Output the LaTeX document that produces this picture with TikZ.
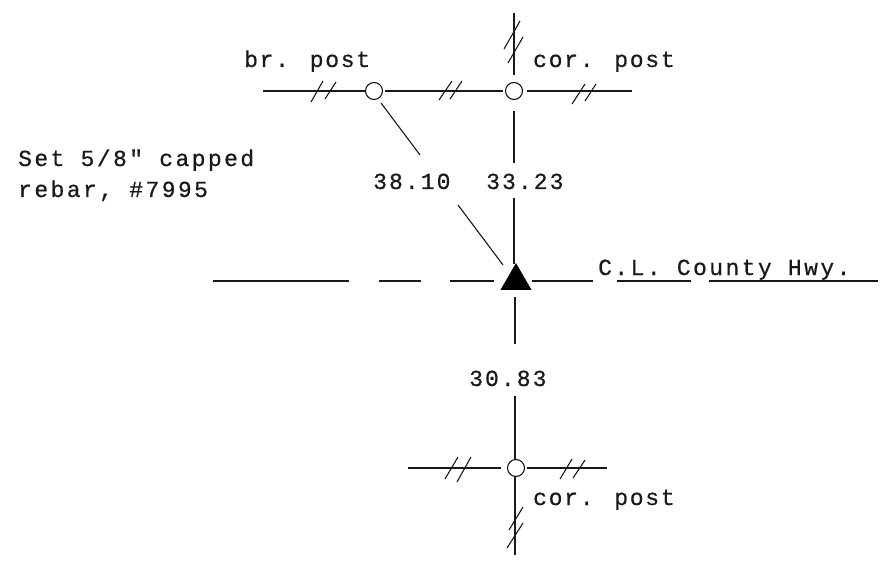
\documentclass[tikz,border=0pt]{standalone}
\usepackage{fontspec}
\newfontfamily\typew[LetterSpace=9,FakeBold=0.6]{Liberation Mono}
\newfontfamily\typen[LetterSpace=7.5,FakeBold=0.6]{Liberation Mono}
\newfontfamily\typem[LetterSpace=10.5,FakeBold=0.6]{Liberation Mono}
\usetikzlibrary{shapes.geometric}
\tikzset{
 lab/.style={anchor=base west,inner sep=0pt,font=\typew\fontsize{23}{26}\selectfont,text=black!90},
 labn/.style={lab,font=\typen\fontsize{23}{26}\selectfont},
 labm/.style={lab,font=\typem\fontsize{23}{26}\selectfont},
 post/.style={circle,draw,fill=white,line width=1pt,minimum size=17pt,inner sep=0pt},
 ln/.style={line width=1.1pt,black!90},
 tick/.style={line width=1.1pt,black!90},
 mon/.style={regular polygon,regular polygon sides=3,fill=black,draw=black,line join=round,inner sep=0pt,minimum size=35pt}
}
\begin{document}
\begin{tikzpicture}[x=1pt,y=-1pt]
\useasboundingbox (0,0) rectangle (885,561);
% posts
\node[post] (br) at (374,91) {};
\node[post] (ct) at (514,91) {};
\node[post] (cb) at (516,468) {};
\node[mon] (tri) at (516,281) {};
% free ends
\coordinate (tl) at (263,91); \coordinate (tr) at (632,91);
\coordinate (tt) at (514,13); \coordinate (ta) at (514,75);
\coordinate (tb) at (514,111); \coordinate (tc) at (514,163);
\coordinate (td) at (514,198); \coordinate (te) at (514,264);
\coordinate (da) at (381,103); \coordinate (db) at (420,155);
\coordinate (dc) at (458,205); \coordinate (dd) at (503,265);
\coordinate (va) at (515,297); \coordinate (vb) at (515,344);
\coordinate (vc) at (515,396); \coordinate (vd) at (515,460);
\coordinate (ve) at (515,476); \coordinate (vf) at (515,555);
\coordinate (bl) at (408,468); \coordinate (bla) at (501,468);
\coordinate (bra) at (527,468); \coordinate (br2) at (607,468);
\coordinate (lb) at (385,91); \coordinate (la) at (503,91); \coordinate (lc) at (527,91);
% lines
\draw[ln] (tl) -- (br.west);
\draw[ln] (lb) -- (la);
\draw[ln] (lc) -- (tr);
\draw[ln] (tt) -- (ta);
\draw[ln] (tb) -- (tc);
\draw[ln] (td) -- (te);
\draw[ln] (da) -- (db);
\draw[ln] (dc) -- (dd);
\draw[ln] (va) -- (vb);
\draw[ln] (vc) -- (vd);
\draw[ln] (ve) -- (vf);
\draw[ln] (bl) -- (bla);
\draw[ln] (bra) -- (br2);
% road
\foreach \a/\b in {213/349,379/421,450/494,532/593,617/691,709/878}
  \draw[ln] (\a,281) -- (\b,281);
% ticks
\foreach \a/\b/\c/\d in {311/102/323/81,325/99/336/82,439/100/452/81,450/99/462/81,572/104/585/84,585/101/596/84,
  504/49/520/21,508/63/523/37,445/479/458/457,457/482/471/457,560/479/572/459,573/478/585/460,509/530/523/507,507/548/523/523}
  \draw[tick] (\a,\b) -- (\c,\d);
% labels
\node[labn] (t1) at (244,67) {br. post};
\node[labn] (t2) at (533,67) {cor. post};
\node[labm] (t3) at (18,166) {Set 5/8" capped};
\node[labm] (t4) at (18,197) {rebar, \#7995};
\node[lab] (t5) at (373,189) {38.10};
\node[lab] (t6) at (486,189) {33.23};
\node[labm] (t7) at (598,275) {C.L. County Hwy.};
\node[lab] (t8) at (469,386) {30.83};
\node[labn] (t9) at (533,505) {cor. post};
\end{tikzpicture}
\end{document}
